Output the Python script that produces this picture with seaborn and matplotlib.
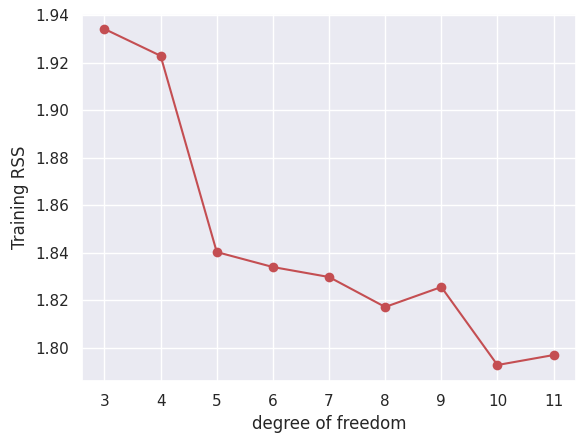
import matplotlib
matplotlib.use("Agg")
import matplotlib.pyplot as plt
import seaborn as sns
import pandas as pd

sns.set_theme()

dof = [3, 4, 5, 6, 7, 8, 9, 10, 11]
rss = [1.9341, 1.9228, 1.8403, 1.8340, 1.8298, 1.8172, 1.8256, 1.7928, 1.7970]

df = pd.DataFrame({"dof": dof, "rss": rss})

fig, ax = plt.subplots(figsize=(5.86, 4.44), dpi=100)
fig.subplots_adjust(left=0.140, right=0.983, top=0.9685, bottom=0.142)
sns.lineplot(data=df, x="dof", y="rss", color=(0.7686, 0.3059, 0.3216),
             marker="o", markersize=7, markeredgewidth=0, ax=ax)
ax.set_xticks(dof)
yt = [1.80, 1.82, 1.84, 1.86, 1.88, 1.90, 1.92, 1.94]
ax.set_yticks(yt)
ax.set_yticklabels([f"{v:.2f}" for v in yt])
ax.set_ylim(1.7861, 1.9404)
ax.set_xlabel("degree of freedom")
ax.set_ylabel("Training RSS")
fig.savefig("out.png", dpi=100)
